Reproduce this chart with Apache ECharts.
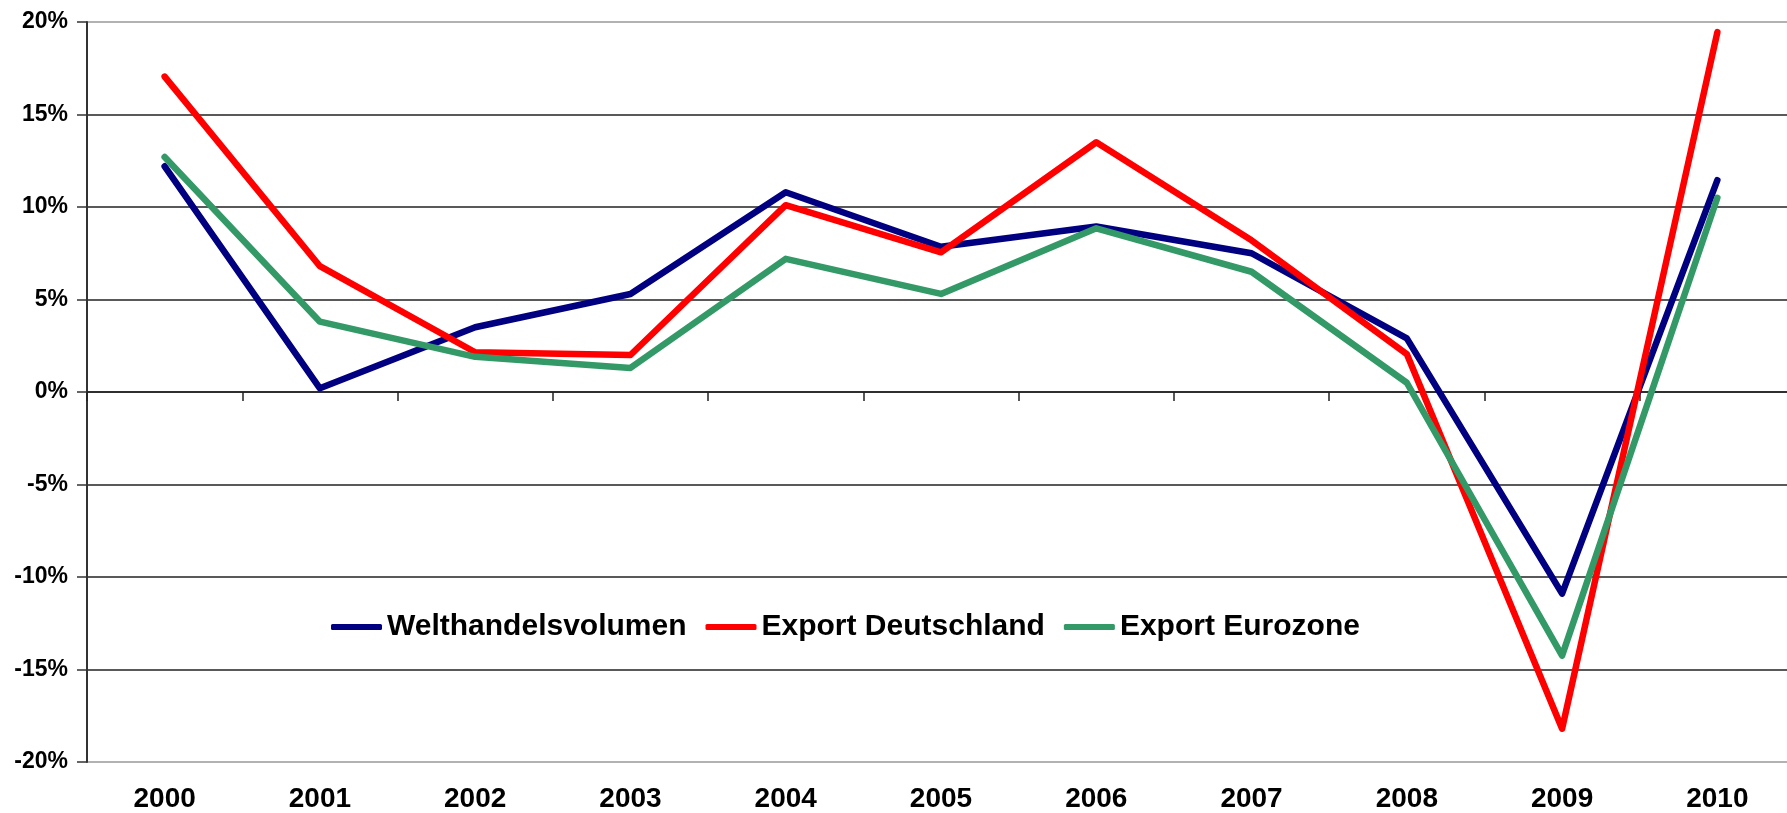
<!DOCTYPE html>
<html>
<head>
<meta charset="utf-8">
<script src="https://cdn.jsdelivr.net/npm/echarts@6/dist/echarts.min.js"></script>
<style>
html,body{margin:0;padding:0;background:#fff;}
#chart{width:1787px;height:813px;}
</style>
</head>
<body>
<div id="chart"></div>
<script>
const years = ['2000','2001','2002','2003','2004','2005','2006','2007','2008','2009','2010'];
const welthandel = [12.2, 0.2, 3.5, 5.3, 10.8, 7.85, 8.95, 7.5, 2.9, -10.9, 11.45];
const exportDE = [17.05, 6.8, 2.15, 2.0, 10.1, 7.55, 13.5, 8.2, 2.05, -18.2, 19.45];
const exportEZ = [12.7, 3.8, 1.9, 1.3, 7.2, 5.3, 8.85, 6.5, 0.5, -14.25, 10.5];
const seriesNames = ['Welthandelsvolumen', 'Export Deutschland', 'Export Eurozone'];
const yMin = -20, yMax = 20, yStep = 5;

const font = "'Liberation Sans', Arial, sans-serif";
const chart = echarts.init(document.getElementById('chart'), null, {renderer: 'canvas'});

function line(name, data, color) {
  return {
    name: name, type: 'line', data: data, xAxisIndex: 0,
    symbol: 'none', smooth: false,
    lineStyle: {color: color, width: 6.5, cap: 'round', join: 'round'},
    itemStyle: {color: color},
    emphasis: {disabled: true}
  };
}

chart.setOption({
  backgroundColor: '#ffffff',
  animation: false,
  grid: {left: 87, top: 22, width: 1708, height: 740, containLabel: false, outerBoundsMode: 'none'},
  legend: {
    left: 326, top: 607,
    icon: 'roundRect', itemWidth: 51, itemHeight: 6, itemGap: 19,
    textStyle: {fontFamily: font, fontWeight: 'bold', fontSize: 30, color: '#000'},
    data: seriesNames
  },
  xAxis: [
    {
      type: 'category', data: years, position: 'bottom', boundaryGap: true,
      axisLine: {show: false, onZero: false},
      axisTick: {show: false},
      axisLabel: {fontFamily: font, fontWeight: 'bold', fontSize: 28, color: '#000', margin: 23, interval: 0},
      splitLine: {show: false}
    },
    {
      type: 'category', data: years, position: 'top', boundaryGap: true,
      axisLine: {show: true, onZero: true, lineStyle: {color: '#222', width: 1.5}},
      axisTick: {show: true, inside: true, length: 9, lineStyle: {color: '#222', width: 1.5}},
      axisLabel: {show: false},
      splitLine: {show: false}
    }
  ],
  yAxis: {
    type: 'value', min: yMin, max: yMax, interval: yStep,
    axisLine: {show: true, lineStyle: {color: '#333', width: 2}},
    axisTick: {show: true, length: 10, lineStyle: {color: '#333', width: 1.5}},
    axisLabel: {fontFamily: font, fontWeight: 'bold', fontSize: 23, color: '#000', margin: 19,
      formatter: function (v) { return v + '%'; }},
    splitLine: {show: true, lineStyle: {width: 1.5,
      color: ['#999', '#222', '#222', '#222', '#222', '#222', '#222', '#222', '#999']}}
  },
  series: [
    line(seriesNames[0], welthandel, '#000080'),
    line(seriesNames[1], exportDE, '#ff0000'),
    line(seriesNames[2], exportEZ, '#339966')
  ]
});
</script>
</body>
</html>
